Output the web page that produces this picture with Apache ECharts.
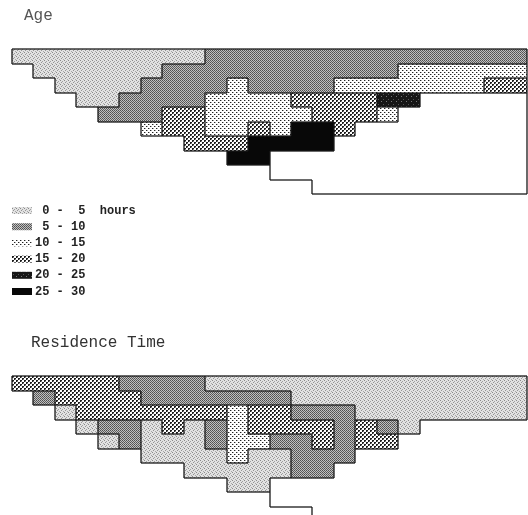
<!DOCTYPE html>
<html>
<head>
    <meta charset="utf-8">
    <title>Age and Residence Time</title>
    <script src="https://cdn.jsdelivr.net/npm/echarts@6/dist/echarts.min.js"></script>
</head>
<body style="margin:0;background:#fff;">
    <div id="main" style="width: 528px;height:515px;"></div>
    <script type="text/javascript">

// one string per grid row, one char per column (24 columns)
// 0..5 = class index, w = blank water cell, . = outside the estuary
var ageRows = [
    '000000000111111111111111',
    '.00000011111111111222222',
    '..0000111121111222222233',
    '...0011112222333344wwwww',
    '....11133222223332wwwwww',
    '......2332232553wwwwwwww',
    '........3335555wwwwwwwww',
    '..........55wwwwwwwwwwww',
    '............wwwwwwwwwwww',
    '..............wwwwwwwwww'
];
var residenceRows = [
    '333331111000000000000000',
    '.13333111111100000000000',
    '..0333333323311100000000',
    '...0110301233331310wwwww',
    '....01000122113133wwwwww',
    '......0000200111wwwwwwww',
    '........0000011wwwwwwwww',
    '..........00wwwwwwwwwwww',
    '............wwwwwwwwwwww',
    '..............wwwwwwwwww'
];
var classLabels = [' 0 -  5  hours', ' 5 - 10', '10 - 15', '15 - 20', '20 - 25', '25 - 30'];
var mapTitles = ['Age', 'Residence Time'];

// small bitmap tiles that mimic the printed shading
function tile(size, bg, dots) {
    var cv = document.createElement('canvas');
    cv.width = size; cv.height = size;
    var ctx = cv.getContext('2d');
    ctx.fillStyle = bg;
    ctx.fillRect(0, 0, size, size);
    dots.forEach(function (d) {
        ctx.fillStyle = d[2];
        ctx.fillRect(d[0], d[1], 1, 1);
    });
    return { image: cv, repeat: 'repeat' };
}
var patterns = [
    tile(4, '#e2e2e2', [[0, 0, '#8a8a8a'], [2, 1, '#a0a0a0'], [1, 2, '#949494'], [3, 3, '#a8a8a8']]),
    tile(2, '#c0c0c0', [[0, 0, '#505050'], [1, 1, '#606060']]),
    tile(4, '#ffffff', [[0, 0, '#222'], [2, 2, '#222'], [1, 0, '#aaa'], [3, 2, '#aaa']]),
    tile(4, '#ffffff', [[0, 0, '#1e1e1e'], [1, 0, '#1e1e1e'], [0, 1, '#1e1e1e'], [1, 1, '#888'],
                        [2, 2, '#1e1e1e'], [3, 2, '#1e1e1e'], [2, 3, '#1e1e1e'], [3, 3, '#888']]),
    tile(5, '#161616', [[1, 1, '#777'], [3, 4, '#555']]),
    tile(2, '#080808', [])
];
function fillFor(k) {
    return k === 'w' ? '#ffffff' : patterns[+k];
}

function codeAt(rows, c, r) {
    if (r < 0 || r >= rows.length || c < 0 || c >= rows[r].length) return '.';
    return rows[r][c];
}

function cellsOf(rows) {
    var out = [];
    rows.forEach(function (row, r) {
        for (var c = 0; c < row.length; c++) {
            if (row[c] !== '.') out.push([c, r, row[c] === 'w' ? 6 : +row[c]]);
        }
    });
    return out;
}

function cellBox(api, c, r) {
    var p0 = api.coord([c, r]);
    var p1 = api.coord([c + 1, r + 1]);
    return [Math.round(p0[0]), Math.round(p0[1]), Math.round(p1[0]), Math.round(p1[1])];
}

function fillSeries(rows, idx) {
    var cells = cellsOf(rows);
    return {
        type: 'custom',
        xAxisIndex: idx, yAxisIndex: idx,
        silent: true,
        clip: false,
        data: cells,
        renderItem: function (params, api) {
            var cell = cells[params.dataIndex];
            var b = cellBox(api, cell[0], cell[1]);
            return {
                type: 'rect',
                shape: { x: b[0], y: b[1], width: b[2] - b[0], height: b[3] - b[1] },
                style: { fill: fillFor(rows[cell[1]][cell[0]]) }
            };
        }
    };
}

function edgeSeries(rows, idx, openRight) {
    var cells = cellsOf(rows);
    return {
        type: 'custom',
        xAxisIndex: idx, yAxisIndex: idx,
        silent: true,
        clip: false,
        z: 5,
        data: cells,
        renderItem: function (params, api) {
            var cell = cells[params.dataIndex];
            var c = cell[0], r = cell[1], k = rows[r][c];
            var b = cellBox(api, c, r);
            var lines = [];
            function edge(nc, nr, x1, y1, x2, y2, mine) {
                var n = codeAt(rows, nc, nr);
                if (n === k) return;
                if (n !== '.' && !mine) return;
                lines.push({
                    type: 'line',
                    shape: { x1: x1, y1: y1, x2: x2, y2: y2 },
                    style: { stroke: '#1a1a1a', lineWidth: 1.3 }
                });
            }
            edge(c, r - 1, b[0], b[1], b[2], b[1], true);
            edge(c - 1, r, b[0], b[1], b[0], b[3], true);
            if (!(openRight && k === 'w')) edge(c + 1, r, b[2], b[1], b[2], b[3], false);
            edge(c, r + 1, b[0], b[3], b[2], b[3], false);
            return { type: 'group', children: lines };
        }
    };
}

var legendItems = [];
classLabels.forEach(function (label, i) {
    legendItems.push({
        type: 'rect',
        shape: { x: 12, y: 207 + 16.2 * i, width: 20, height: 7 },
        style: { fill: patterns[i] }
    });
    legendItems.push({
        type: 'text',
        style: {
            text: label, x: 35, y: 211 + 16.1 * i,
            font: 'bold 12px "Liberation Mono"', fill: '#222',
            verticalAlign: 'middle'
        }
    });
});

var myChart = echarts.init(document.getElementById('main'));
var titleStyle = { fontFamily: 'Liberation Mono', fontSize: 16, fontWeight: 'normal' };
// the lower map runs off the bottom of the page: 139px visible of 14.5px rows
myChart.setOption({
    animation: false,
    title: [
        { text: mapTitles[0], left: 24, top: 8, padding: 0,
          textStyle: Object.assign({ color: '#555' }, titleStyle) },
        { text: mapTitles[1], left: 31, top: 335, padding: 0,
          textStyle: Object.assign({ color: '#333' }, titleStyle) }
    ],
    grid: [
        { left: 12, top: 49, width: 515, height: 145 },
        { left: 12, top: 376, width: 515, height: 139 }
    ],
    xAxis: [
        { gridIndex: 0, type: 'value', min: 0, max: 24, show: false },
        { gridIndex: 1, type: 'value', min: 0, max: 24, show: false }
    ],
    yAxis: [
        { gridIndex: 0, type: 'value', min: 0, max: 10, inverse: true, show: false },
        { gridIndex: 1, type: 'value', min: 0, max: 139 / 14.5, inverse: true, show: false }
    ],
    graphic: [{ type: 'group', children: legendItems }],
    series: [
        fillSeries(ageRows, 0),
        edgeSeries(ageRows, 0, false),
        fillSeries(residenceRows, 1),
        edgeSeries(residenceRows, 1, true)
    ]
});
    </script>
</body>
</html>
